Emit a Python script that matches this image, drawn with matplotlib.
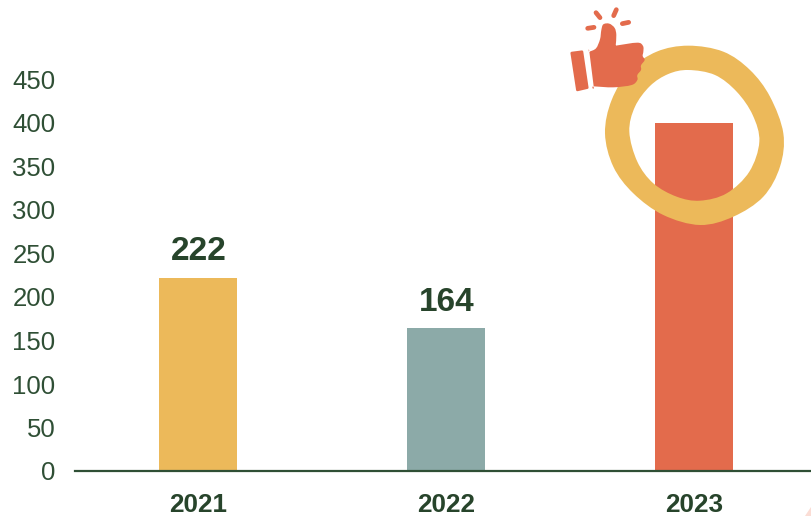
import numpy as np
import matplotlib.pyplot as plt
from matplotlib.path import Path
from matplotlib.patches import PathPatch, Polygon

plt.rcParams['font.family'] = ['Liberation Sans', 'DejaVu Sans']

# Data
years = ['2021', '2022', '2023']
values = [222, 164, 400]
bar_colors = ['#ECB95A', '#8CAAA8', '#E36B4C']
y_ticks = [0, 50, 100, 150, 200, 250, 300, 350, 400, 450]

DARK = '#27442B'
W, H = 811, 516

fig = plt.figure(figsize=(W / 100, H / 100), dpi=100)

# axes placed so the baseline is at y=471 and the plot runs off the top
ax = fig.add_axes([75 / W, (H - 471) / H, (W - 75) / W, 471 / H])
ax.bar(range(3), values, width=0.3145, color=bar_colors, zorder=2)
ax.set_xlim(-0.496, 2.472)
ax.set_ylim(0, 471 / 0.87)
ax.set_yticks(y_ticks)
ax.set_xticks(range(3))
ax.set_xticklabels(years, fontsize=18.8, fontweight='bold', color=DARK)
ax.tick_params(axis='x', length=0, pad=15.5)
ax.tick_params(axis='y', length=0, pad=14, labelsize=18.5, labelcolor='#2F4F35')
for s in ['top', 'right', 'left']:
    ax.spines[s].set_visible(False)
ax.spines['bottom'].set_color('#2F4F35')
ax.spines['bottom'].set_linewidth(1.6)
ax.spines['bottom'].set_zorder(3)
ax.patch.set_alpha(0)

# only the first two bars carry a value label
for i in range(2):
    ax.text(i + 0.004, values[i] + 12, str(values[i]), ha='center', va='bottom',
            fontsize=24, fontweight='bold', color=DARK)

# Decoration layer in pixel coordinates
deco = fig.add_axes([0, 0, 1, 1])
deco.set_xlim(0, W)
deco.set_ylim(H, 0)
deco.axis('off')
deco.patch.set_alpha(0)


def zoomed(points):
    p = np.array(points, dtype=float)
    return np.column_stack([550 + p[:, 0] / 3, p[:, 1] / 3])


def smooth_closed(p):
    # closed Catmull-Rom through the points, as Bezier segments
    n = len(p)
    verts = [p[0]]
    codes = [Path.MOVETO]
    for i in range(n):
        p0, p1, p2, p3 = p[i - 1], p[i], p[(i + 1) % n], p[(i + 2) % n]
        verts += [p1 + (p2 - p0) / 6, p2 - (p3 - p1) / 6, p2]
        codes += [Path.CURVE4] * 3
    return verts, codes


outer = zoomed([(415, 137), (520, 155), (600, 210), (660, 290), (700, 400),
                (690, 500), (640, 590), (550, 650), (450, 675), (340, 645),
                (250, 580), (190, 500), (165, 400), (185, 300), (240, 210),
                (320, 155)])
inner = zoomed([(415, 210), (355, 222), (300, 258), (255, 320), (238, 395),
                (262, 485), (310, 550), (380, 590), (450, 602), (530, 580),
                (598, 515), (628, 425), (608, 345), (560, 275), (495, 225)])
v1, c1 = smooth_closed(outer)
v2, c2 = smooth_closed(inner)
deco.add_patch(PathPatch(Path(v1 + v2, c1 + c2), fc='#ECB95A', ec='none', zorder=3))

# thumbs up
ORANGE = '#E36B4C'
cuff = zoomed([(65, 159), (96, 155), (112, 263), (82, 270)])
deco.add_patch(Polygon(cuff, closed=True, fc=ORANGE, ec=ORANGE, lw=1.8, joinstyle='round', zorder=4))
# doubled points keep the wrist and the thumb base sharp
hand = zoomed([(118, 155), (118, 155), (138, 145), (150, 118), (154, 90), (160, 73), (178, 71),
               (194, 84), (199, 105), (197, 137), (197, 137), (262, 128), (279, 138),
               (280, 155), (278, 168), (284, 180), (273, 196), (273, 210), (262, 225),
               (262, 240), (245, 255), (190, 262), (131, 259), (131, 259)])
v3, c3 = smooth_closed(hand)
deco.add_patch(PathPatch(Path(v3, c3), fc=ORANGE, ec='none', zorder=4))
rays = [[(138, 38), (150, 53)], [(199, 29), (191, 47)], [(113, 85), (132, 82)], [(217, 71), (236, 67)]]
for r in rays:
    q = zoomed(r)
    deco.plot(q[:, 0], q[:, 1], color=ORANGE, lw=3.4, solid_capstyle='round', zorder=4)

# faint pink corner at bottom right
deco.add_patch(Polygon([(805, 516), (811, 507), (811, 516)], closed=True, fc='#FBDDD5', ec='none'))

fig.savefig('out.png', dpi=100)
